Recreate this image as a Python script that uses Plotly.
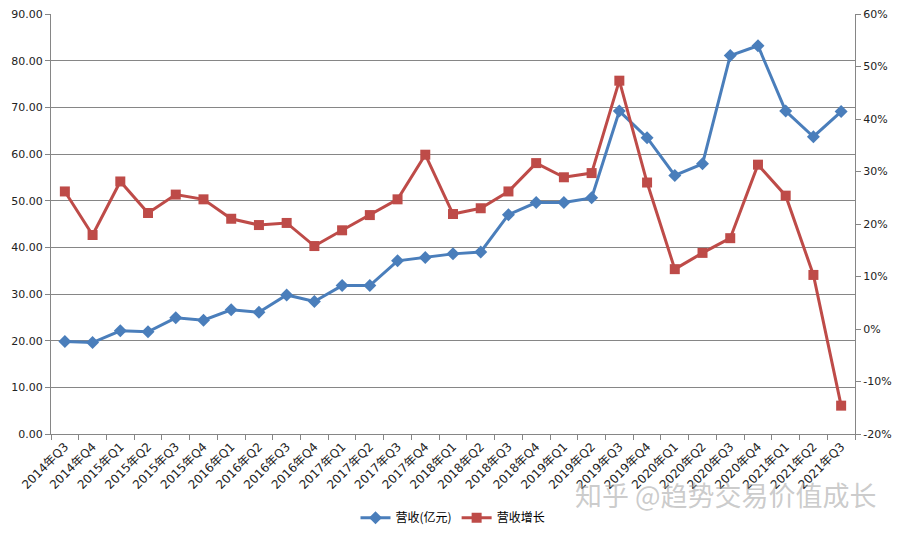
import plotly.graph_objects as go

quarters = ["2014年Q3", "2014年Q4",
            "2015年Q1", "2015年Q2", "2015年Q3", "2015年Q4",
            "2016年Q1", "2016年Q2", "2016年Q3", "2016年Q4",
            "2017年Q1", "2017年Q2", "2017年Q3", "2017年Q4",
            "2018年Q1", "2018年Q2", "2018年Q3", "2018年Q4",
            "2019年Q1", "2019年Q2", "2019年Q3", "2019年Q4",
            "2020年Q1", "2020年Q2", "2020年Q3", "2020年Q4",
            "2021年Q1", "2021年Q2", "2021年Q3"]

revenue = [19.8, 19.6, 22.1, 21.9, 24.9, 24.4, 26.6, 26.1, 29.8, 28.4,
           31.8, 31.8, 37.1, 37.8, 38.6, 39.0, 47.0, 49.6, 49.6, 50.6,
           69.2, 63.5, 55.4, 57.9, 81.1, 83.2, 69.2, 63.7, 69.1]

growth = [26.2, 17.9, 28.1, 22.1, 25.6, 24.7, 21.0, 19.8, 20.2, 15.8,
          18.8, 21.7, 24.7, 33.2, 21.9, 23.0, 26.2, 31.6, 28.9, 29.7,
          47.3, 27.9, 11.4, 14.5, 17.3, 31.3, 25.4, 10.3, -14.6]

left_ticks = [0, 10, 20, 30, 40, 50, 60, 70, 80, 90]
right_ticks = [-20, -10, 0, 10, 20, 30, 40, 50, 60]

BLUE = "#4A7EBB"
RED = "#BE4B48"
GRID = "#868686"
FONT = "DejaVu Sans, Noto Sans CJK SC, sans-serif"

fig = go.Figure()
fig.add_trace(go.Scatter(
    x=quarters, y=revenue, name="营收(亿元)", mode="lines+markers",
    line=dict(color=BLUE, width=3),
    marker=dict(symbol="diamond", size=10, color=BLUE),
    yaxis="y"))
fig.add_trace(go.Scatter(
    x=quarters, y=growth, name="营收增长", mode="lines+markers",
    line=dict(color=RED, width=3),
    marker=dict(symbol="square", size=10, color=RED),
    yaxis="y2"))

fig.update_layout(
    width=902, height=533,
    margin=dict(l=51, r=47, t=14, b=99, autoexpand=False),
    paper_bgcolor="white", plot_bgcolor="white",
    font=dict(family=FONT, size=11, color="#222222"),
    showlegend=True,
    legend=dict(orientation="h", x=0.5, xanchor="center", y=-0.165, yanchor="top",
                font=dict(size=12, family="Noto Sans CJK SC, sans-serif", color="#000000"),
                itemwidth=30, bgcolor="rgba(0,0,0,0)"),
    xaxis=dict(type="category", range=[-0.5, len(quarters) - 0.5], automargin=False,
               showgrid=False, showline=True, linecolor=GRID, linewidth=1,
               ticks="outside", tickson="boundaries", ticklen=5, tickcolor=GRID,
               tickangle=-45, tickfont=dict(size=12, family=FONT, color="#222222")),
    yaxis=dict(range=[0, 90], tickvals=left_ticks, automargin=False,
               ticktext=[f"{v:.2f}" for v in left_ticks],
               showgrid=True, gridcolor=GRID, gridwidth=1,
               showline=True, linecolor=GRID, linewidth=1,
               ticks="outside", ticklen=5, tickcolor=GRID, zeroline=False),
    yaxis2=dict(range=[-20, 60], tickvals=right_ticks, automargin=False,
                ticktext=[f"{v}%" for v in right_ticks],
                overlaying="y", side="right", showgrid=False, zeroline=False,
                showline=True, linecolor=GRID, linewidth=1,
                ticks="outside", ticklen=5, tickcolor=GRID),
)

# watermark
fig.add_annotation(text="知乎 @趋势交易价值成长", xref="paper", yref="paper",
                   x=1.03, y=-0.145, xanchor="right", yanchor="middle",
                   showarrow=False,
                   font=dict(size=27, family="Noto Sans CJK SC, sans-serif",
                             color="rgba(160,160,160,0.55)"))

fig.write_html("out.html")
